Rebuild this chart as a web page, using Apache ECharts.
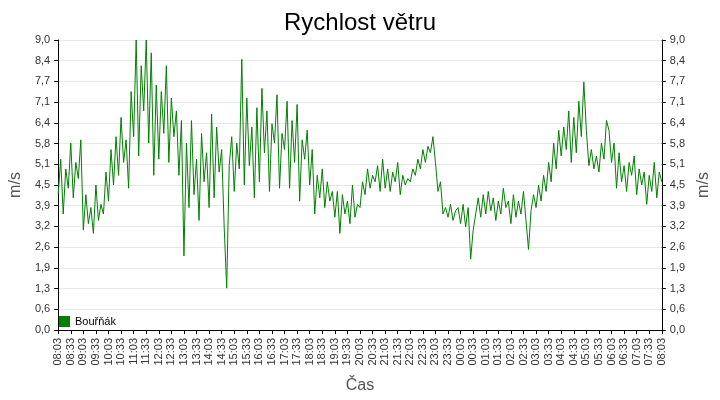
<!DOCTYPE html>
<html>
<head>
<meta charset="utf-8">
<script src="https://cdn.jsdelivr.net/npm/echarts@6/dist/echarts.min.js"></script>
<style>html,body{margin:0;padding:0;background:#fff}#chart{width:720px;height:400px}</style>
</head>
<body>
<div id="chart"></div>
<script>
// rychlost větru, hodnoty po 6 minutách od 08:03
const windSpeed = [
  4.2,5.3,3.6,5.0,4.4,5.8,4.1,5.2,4.7,5.9,
  3.1,4.2,3.3,3.8,3.0,4.5,3.4,3.9,3.6,4.9,
  4.0,5.6,4.5,6.0,4.8,6.6,5.2,5.9,4.4,7.4,
  6.0,9.0,5.4,8.2,6.8,9.0,5.8,8.6,4.8,7.6,
  5.3,7.4,6.1,8.2,5.2,7.2,6.0,6.8,4.8,6.5,
  2.3,5.8,3.8,6.5,4.2,5.3,3.4,6.1,4.6,5.5,
  3.8,6.7,4.1,6.3,4.9,5.6,3.2,1.3,5.1,6.0,
  4.3,5.8,5.0,8.4,4.5,7.2,5.1,6.3,4.1,6.9,
  4.6,7.5,5.5,6.8,4.3,6.4,5.8,7.3,4.4,6.1,
  5.6,7.1,4.4,6.5,5.2,7.0,4.0,5.9,5.3,6.2,
  4.5,5.6,3.6,4.8,4.1,5.0,3.8,4.6,4.0,4.3,
  3.5,4.3,3.0,4.2,3.6,4.0,3.3,4.5,3.5,3.9,
  3.8,4.6,4.2,5.0,4.4,4.8,4.6,5.1,4.3,5.3,
  4.4,5.0,4.3,4.9,4.6,5.2,4.2,4.8,4.5,4.7,
  4.6,5.0,4.8,5.3,5.0,5.6,5.2,5.7,5.5,6.0,
  5.2,4.3,4.6,3.6,3.8,3.5,3.9,3.4,3.7,3.8,
  3.3,3.9,3.2,3.8,2.2,3.1,3.6,4.1,3.5,4.2,
  3.6,4.3,3.7,4.1,3.4,4.0,3.6,4.4,3.8,4.0,
  3.3,4.2,3.5,4.0,3.6,4.3,3.4,2.5,3.7,4.2,
  3.8,4.5,4.0,4.8,4.3,5.2,4.6,5.8,5.0,6.2,
  5.4,6.3,5.6,6.8,5.2,6.6,5.5,7.1,6.0,7.7,
  6.2,5.1,5.6,5.0,5.4,4.9,5.8,5.3,6.5,6.2,
  5.2,5.8,4.4,5.5,4.6,5.1,4.3,5.2,4.8,5.4,
  4.2,5.0,4.5,4.9,3.9,4.8,4.3,5.2,4.1,4.9,
  4.6
];

// časové popisky osy x
const timeLabels = [];
for (let i = 0; i < windSpeed.length; i++) {
  const m = (8 * 60 + 3 + i * 6) % (24 * 60);
  const hh = String(Math.floor(m / 60)).padStart(2, '0');
  const mm = String(m % 60).padStart(2, '0');
  timeLabels.push(hh + ':' + mm);
}

const yFmt = v => v.toFixed(1).replace('.', ',');
const axisText = { color: '#333', fontSize: 11, fontFamily: 'Liberation Sans' };

const yAxisBase = {
  type: 'value', min: 0, max: 9, interval: 9 / 14,
  name: 'm/s', nameLocation: 'middle', nameGap: 34,
  nameTextStyle: { color: '#555', fontSize: 16, fontFamily: 'Liberation Sans' },
  axisLine: { show: true, lineStyle: { color: '#000' } },
  axisTick: { show: true, length: 4, lineStyle: { color: '#000' } },
  axisLabel: Object.assign({ formatter: yFmt }, axisText)
};

const chart = echarts.init(document.getElementById('chart'));
chart.setOption({
  animation: false,
  title: {
    text: 'Rychlost větru', left: 'center', top: 6,
    textStyle: { fontSize: 24, fontWeight: 'normal', color: '#000', fontFamily: 'Liberation Sans' }
  },
  legend: {
    left: 54, top: 311, itemWidth: 11, itemHeight: 11, icon: 'rect',
    textStyle: { fontSize: 11, color: '#000', fontFamily: 'Liberation Sans' },
    data: ['Bouřňák']
  },
  grid: { left: 49, right: 49, top: 40, bottom: 70 },
  xAxis: {
    type: 'category', data: timeLabels, boundaryGap: false,
    name: 'Čas', nameLocation: 'middle', nameGap: 48,
    nameTextStyle: { color: '#555', fontSize: 16, fontFamily: 'Liberation Sans' },
    axisLine: { lineStyle: { color: '#000' } },
    axisTick: { interval: 4, length: 4, lineStyle: { color: '#000' } },
    axisLabel: Object.assign({ interval: 4, rotate: 90 }, axisText),
    splitLine: { show: false }
  },
  yAxis: [
    Object.assign({ position: 'left', splitLine: { lineStyle: { color: '#e8e8e8' } } }, yAxisBase),
    Object.assign({ position: 'right', splitLine: { show: false } }, yAxisBase)
  ],
  series: [{
    name: 'Bouřňák', type: 'line', data: windSpeed, showSymbol: false,
    lineStyle: { color: '#008000', width: 1 }, itemStyle: { color: '#008000' }
  }]
});
</script>
</body>
</html>
